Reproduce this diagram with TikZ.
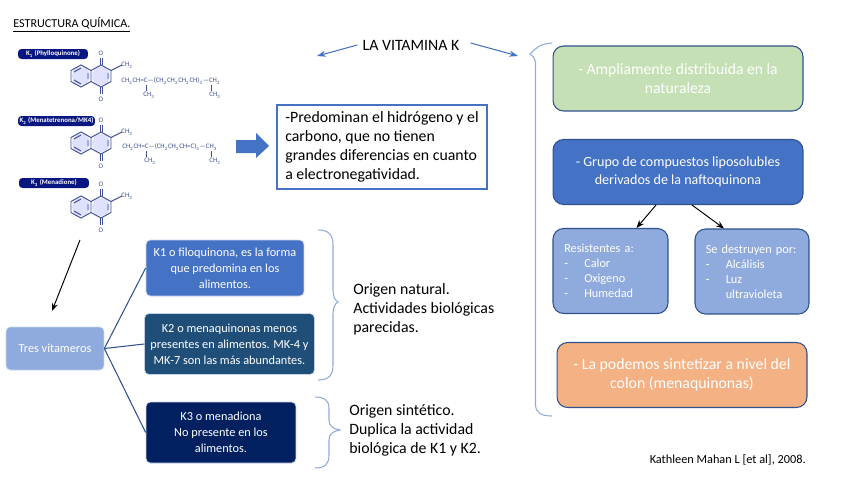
\documentclass[tikz,border=0pt]{standalone}
\usepackage{fontspec}
\setmainfont{Carlito}
\usepackage{tikz}
\usetikzlibrary{arrows.meta, positioning, calc}
\definecolor{vitblue}{RGB}{68, 114, 196}
\definecolor{vitlight}{RGB}{143, 170, 220}
\definecolor{vitdark}{RGB}{31, 78, 121}
\definecolor{vitnavy}{RGB}{0, 32, 96}
\definecolor{vitgreen}{RGB}{197, 224, 180}
\definecolor{vitorange}{RGB}{244, 177, 131}
\definecolor{vitedge}{RGB}{47, 82, 143}
\definecolor{molblue}{RGB}{62, 78, 150}
\definecolor{pillblue}{RGB}{8, 22, 130}
\newcommand{\vitdash}{\makebox[0.4cm][l]{-}}
\newcommand{\chtwo}{CH\textsubscript{2}}
\newcommand{\chthree}{CH\textsubscript{3}}
\tikzset{
  pics/quinone/.style={code={
    \fill[blue!12] (-10,0) circle (9) (10,0) circle (9);
    \draw[molbond] (0,-5.5) -- (-10,-11) -- (-20,-5.5) -- (-20,5.5) -- (-10,11) -- (0,5.5) -- cycle;
    \draw[molbond] (0,-5.5) -- (10,-11) -- (20,-5.5) -- (20,5.5) -- (10,11) -- (0,5.5);
    \draw[molbond] (-17,-4) -- (-10,-8) (-17,4) -- (-10,8) (17,-3) -- (17,3) (-3,-3) -- (-3,3);
    \draw[molbond] (9,-11) -- (9,-18) (11,-11) -- (11,-18) (9,11) -- (9,18) (11,11) -- (11,18);
    \draw[molbond] (20,-5.5) -- (31,-11);
    \node[moltext] at (10,-23) {O};
    \node[moltext] at (10,23) {O};
    \node[moltext] at (36,-11) {\chthree};
  }}
}
\begin{document}
\begin{tikzpicture}[
  x=0.02cm, y=-0.02cm,
  molbond/.style={draw=molblue, line width=0.55pt},
  moltext/.style={text=molblue, inner sep=0pt, font=\fontsize{3.9}{4.5}\selectfont},
  pill/.style={fill=pillblue, text=white, rounded corners=2pt, inner sep=0pt, minimum height=0.2cm, font=\fontsize{3.9}{4.5}\selectfont\bfseries},
  kbox/.style={rounded corners=2.5pt, draw=white!70!vitblue, line width=0.4pt, text=white, align=center, font=\fontsize{7}{9.1}\selectfont},
  sidebox/.style={rounded corners=6pt, draw=vitedge, line width=0.6pt, text=white, align=center, minimum width=5cm, minimum height=1.3cm, font=\fontsize{8.9}{10.8}\selectfont},
  listbox/.style={rounded corners=6pt, draw=vitedge, line width=0.6pt, fill=vitlight, text=white, align=left, text width=1.85cm, minimum height=1.7cm, font=\fontsize{7}{8.5}\selectfont},
  plain/.style={inner sep=0pt, align=left, font=\fontsize{9}{10.8}\selectfont},
  brace/.style={draw=vitlight, line width=0.6pt},
  bluearrow/.style={draw=vitblue, line width=0.6pt, -{Stealth[length=5pt,width=3.5pt]}},
  blackarrow/.style={draw=black, line width=0.55pt, -{Stealth[length=4.5pt,width=3.5pt]}},
  branch/.style={draw=vitedge, line width=0.6pt}
]
  \useasboundingbox (0,0) rectangle (848,477);

  \node[plain, anchor=west, font=\fontsize{6.9}{8}\selectfont] (titulo) at (13,25) {\underline{ESTRUCTURA QUÍMICA.}};

  \node[pill, minimum width=1.4cm] (kipill) at (53,54) {K\textsubscript{1} (Phylloquinone)};
  \node[pill, minimum width=1.54cm] (kiipill) at (56.5,121) {K\textsubscript{2} (Menatetrenona/MK4)};
  \node[pill, minimum width=1.4cm] (kiiipill) at (54,183) {K\textsubscript{3} (Menadione)};

  \pic at (91,76) {quinone};
  \pic at (91,143) {quinone};
  \pic at (91,207) {quinone};

  \node[moltext, anchor=west] (kichain) at (121,81) {\chtwo CH=C---(\chtwo\chtwo\chtwo CH)\textsubscript{3}---\chthree};
  \node[moltext] (kime) at (149,95) {\chthree};
  \node[moltext] (kimeb) at (215,95) {\chthree};
  \draw[molbond] (146,85) -- (146,91) (211,85) -- (211,91);
  \node[moltext, anchor=west] (kiichain) at (122,147) {\chtwo CH=C---(\chtwo\chtwo CH=C)\textsubscript{3}---\chthree};
  \node[moltext] (kiime) at (150,161) {\chthree};
  \node[moltext] (kiimeb) at (215,161) {\chthree};
  \draw[molbond] (146,151) -- (146,157) (211,151) -- (211,157);

  \fill[vitblue] (236,140) -- (256,140) -- (256,133) -- (269,146) -- (256,158) -- (256,153) -- (236,153) -- cycle;

  \node[draw=vitblue, line width=0.6pt, minimum width=4.2cm, minimum height=1.68cm, inner sep=0pt, font=\fontsize{9}{10.8}\selectfont, align=left] (predominan) at (382,147) {
    -Predominan el hidrógeno y el\\
    carbono, que no tienen\\
    grandes diferencias en cuanto\\
    a electronegatividad.
  };

  \node[plain] (vitamina) at (411,45) {LA VITAMINA K};
  \coordinate (vitleft) at (317,56);
  \coordinate (vitright) at (518,56);
  \draw[bluearrow] (vitamina.west) ++(-5,0) -- (vitleft);
  \draw[bluearrow] (vitamina.east) ++(11,-2) -- (vitright);

  \draw[brace] (552,43) .. controls (540,44) and (537,47) .. (530,54) .. controls (534,57) and (535,59) .. (535.5,62) -- (535.5,405) .. controls (536,413) and (541,416) .. (552,416);

  \node[sidebox, fill=vitgreen] (amplia) at (678,78.5) {
    - Ampliamente distribuida en la\\
    naturaleza
  };
  \node[sidebox, fill=vitblue, font=\fontsize{8}{10.2}\selectfont] (grupo) at (678,172) {
    - Grupo de compuestos liposolubles\\
    derivados de la naftoquinona
  };
  \node[listbox, minimum width=2.3cm] (resist) at (610.5,271) {
    Resistentes a:\\
    \vitdash Calor\\
    \vitdash Oxigeno\\
    \vitdash Humedad
  };
  \node[listbox, minimum width=2.28cm] (destruyen) at (752,271.5) {
    Se destruyen por:\\
    \vitdash Alcálisis\\
    \vitdash Luz\\
    \makebox[0.4cm]{}ultravioleta
  };
  \node[sidebox, fill=vitorange, font=\fontsize{9}{11}\selectfont] (sintetizar) at (682,375) {
    - La podemos sintetizar a nivel del\\
    colon (menaquinonas)
  };
  \draw[blackarrow] ([xshift=-0.44cm]grupo.south) -- ([xshift=0.52cm]resist.north);
  \draw[blackarrow] ([xshift=0.28cm]grupo.south) -- ([xshift=-0.56cm]destruyen.north);

  \node[kbox, fill=vitlight, minimum width=1.96cm, minimum height=0.86cm] (tres) at (55,348.5) {Tres vitameros};
  \node[kbox, fill=vitblue, minimum width=3.16cm, minimum height=1.12cm] (ki) at (225,268) {
    K1 o filoquinona, es la forma\\
    que predomina en los\\
    alimentos.
  };
  \node[kbox, fill=vitdark, minimum width=3.38cm, minimum height=1.22cm] (kii) at (229.5,344) {
    K2 o menaquinonas  menos\\
    presentes en alimentos. MK-4 y\\
    MK-7 son las más abundantes.
  };
  \node[kbox, fill=vitnavy, minimum width=3cm, minimum height=1.22cm] (kiii) at (221,432.5) {
    K3 o menadiona\\
    No presente en los\\
    alimentos.
  };
  \coordinate (kifoot) at (80,240);
  \coordinate (tresin) at (52,311);
  \draw[blackarrow] (kifoot) -- (tresin);
  \draw[branch] (tres.east) -- (ki.west);
  \draw[branch] (tres.east) -- (kii.west);
  \draw[branch] (tres.east) -- (kiii.west);

  \draw[brace] (318,230) .. controls (329,230) and (333,235) .. (333,245) -- (333,290) .. controls (333,297) and (335,300) .. (338,302) .. controls (335,304) and (333,307) .. (333,314) -- (333,365) .. controls (333,375) and (329,380) .. (318,380);
  \draw[brace] (315,397) .. controls (325,397) and (329,401) .. (329,408) -- (329,420) .. controls (329,426) and (333,429) .. (340,430) .. controls (333,431) and (329,434) .. (329,440) -- (329,455) .. controls (329,464) and (325,468) .. (315,468);

  \node[plain, anchor=west] (natural) at (353,309) {
    Origen natural.\\
    Actividades biológicas\\
    parecidas.
  };
  \node[plain, anchor=west] (sintetico) at (349,430.5) {
    Origen sintético.\\
    Duplica la actividad\\
    biológica de  K1 y K2.
  };
  \node[plain, anchor=east, font=\fontsize{7}{8}\selectfont] (cita) at (806,460) {Kathleen Mahan L [et al], 2008.};
\end{tikzpicture}
\end{document}
